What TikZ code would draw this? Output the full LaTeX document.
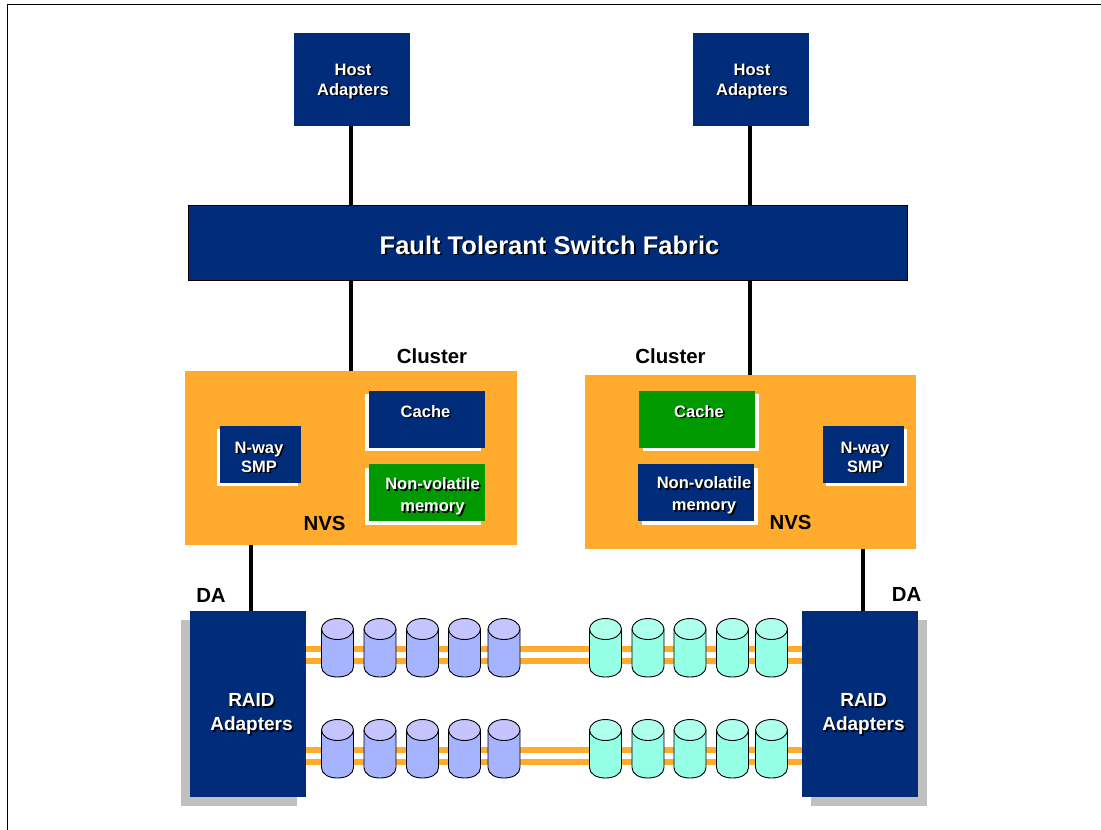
\documentclass[tikz,border=0pt]{standalone}
\usepackage{fontspec}
\setmainfont{Liberation Sans}
\definecolor{navy}{RGB}{0,44,122}
\definecolor{amber}{RGB}{255,171,46}
\definecolor{leaf}{RGB}{0,153,0}
\definecolor{shade}{RGB}{192,192,192}
\definecolor{bluebody}{RGB}{166,180,255}
\definecolor{bluetop}{RGB}{196,196,255}
\definecolor{aquabody}{RGB}{148,255,228}
\definecolor{aquatop}{RGB}{174,255,235}
\newcommand{\shtxt}[1]{\leavevmode\rlap{\raisebox{-1.7pt}{\hspace{1.7pt}\textcolor{black}{#1}}}#1}
\newcommand{\fs}[2]{\fontsize{#1}{#2}\selectfont\bfseries}
\newcommand{\cyl}[6]{%
  \pgfmathsetmacro{\xm}{(#1+#2)/2}%
  \pgfmathsetmacro{\yt}{#3+10.5}%
  \pgfmathsetmacro{\yb}{#4-10.5}%
  \pgfmathsetmacro{\ya}{#4-4}%
  \pgfmathsetmacro{\xa}{#1+7}%
  \pgfmathsetmacro{\xb}{#2-7}%
  \draw[cylline,fill=#5] (#1,\yt) -- (#1,\yb) .. controls (#1,\ya) and (\xa,#4) .. (\xm,#4) .. controls (\xb,#4) and (#2,\ya) .. (#2,\yb) -- (#2,\yt) -- cycle;
  \draw[cylline,fill=#6] (\xm,\yt) ellipse [x radius=16, y radius=10.5];}
\tikzset{
  box/.style={rectangle,inner sep=0pt,outer sep=0pt,draw=none,fill=navy},
  greenbox/.style={box,fill=leaf},
  white shadow/.style={rectangle,inner sep=0pt,outer sep=0pt,fill=white},
  gray shadow/.style={rectangle,inner sep=0pt,outer sep=0pt,fill=shade},
  cluster/.style={rectangle,inner sep=0pt,outer sep=0pt,fill=amber},
  link/.style={draw=black,line width=4pt},
  bus/.style={draw=amber,line width=5.4pt},
  cylline/.style={draw=black,line width=0.9pt},
  onbox/.style={text=white,align=center,inner sep=0pt},
  caption/.style={text=black,inner sep=0pt},
  frameline/.style={draw=black,line width=1.1pt}
}
\begin{document}
\begin{tikzpicture}[x=1pt,y=-1pt]
\useasboundingbox (0,0) rectangle (1101,830);
\fill[white] (0,0) rectangle (1101,830);
\draw[frameline] (7.5,830) -- (7.5,4.5) -- (1101,4.5);

% main blocks
\node[box,minimum width=116pt,minimum height=93pt] (host1) at (352,79.5) {};
\node[box,minimum width=116pt,minimum height=93pt] (host2) at (751,79.5) {};
\node[box,draw=black,line width=0.7pt,minimum width=719pt,minimum height=75pt] (fabric) at (547.5,243) {};
\node[cluster,minimum width=332pt,minimum height=174pt] (cl1) at (351,458) {};
\node[cluster,minimum width=331pt,minimum height=174pt] (cl2) at (750.5,462) {};

% RAID
\node[gray shadow,minimum width=116pt,minimum height=186pt] (rs1) at (239,713) {};
\node[gray shadow,minimum width=116pt,minimum height=186pt] (rs2) at (869,713) {};
\node[box,minimum width=116pt,minimum height=186pt] (raid1) at (248,704) {};
\node[box,minimum width=116pt,minimum height=186pt] (raid2) at (860,704) {};

% connectors
\draw[link] ([xshift=-1pt]host1.south) -- ([xshift=-1pt]host1.south |- fabric.north);
\draw[link] ([xshift=-1pt]host2.south) -- ([xshift=-1pt]host2.south |- fabric.north);
\draw[link] ([xshift=-1pt]host1.south |- fabric.south) -- ([xshift=-1pt]host1.south |- cl1.north);
\draw[link] ([xshift=-1pt]host2.south |- fabric.south) -- ([xshift=-1pt]host2.south |- cl2.north);
\draw[link] ([xshift=2.5pt]raid1.north |- cl1.south) -- ([xshift=2.5pt]raid1.north);
\draw[link] ([xshift=2.5pt]raid2.north |- cl2.south) -- ([xshift=2.5pt]raid2.north);

% buses between the RAID adapters
\foreach \off in {55,43,-46,-58}
  \draw[bus] ([yshift=\off pt]raid1.east) -- ([yshift=\off pt]raid2.west);

% disks
\foreach \ya/\yz in {618.5/677,719.5/778}{
  \foreach \xl/\xr in {321.5/353.5,364/396,406.5/438.5,448.5/480.5,488/520}
    {\cyl{\xl}{\xr}{\ya}{\yz}{bluebody}{bluetop}}
  \foreach \xl/\xr in {589.5/621.5,632/664,674/706,716.5/748.5,755.5/787.5}
    {\cyl{\xl}{\xr}{\ya}{\yz}{aquabody}{aquatop}}
}

% left cluster contents
\node[white shadow,minimum width=81pt,minimum height=57pt] (smp1s) at (257.5,457.5) {};
\node[box,minimum width=81pt,minimum height=57pt] (smp1) at (260.5,454.5) {};
\node[white shadow,minimum width=116pt,minimum height=57pt] (cache1s) at (423,422.5) {};
\node[box,minimum width=116pt,minimum height=57pt] (cache1) at (427,419.5) {};
\node[white shadow,minimum width=116pt,minimum height=57pt] (nvm1s) at (423,496.5) {};
\node[greenbox,minimum width=116pt,minimum height=57pt] (nvm1) at (427,492.5) {};

% right cluster contents
\node[white shadow,minimum width=81pt,minimum height=57pt] (smp2s) at (866.5,457.5) {};
\node[box,minimum width=81pt,minimum height=57pt] (smp2) at (863.5,454.5) {};
\node[white shadow,minimum width=116pt,minimum height=57pt] (cache2s) at (701,422.5) {};
\node[greenbox,minimum width=116pt,minimum height=57pt] (cache2) at (697,419.5) {};
\node[white shadow,minimum width=116pt,minimum height=57pt] (nvm2s) at (700,496.5) {};
\node[box,minimum width=116pt,minimum height=57pt] (nvm2) at (696,492.5) {};

% labels
\node[onbox,font=\fs{16.5}{20}] (t1) at (353,82) {\shtxt{Host}\\\shtxt{Adapters}};
\node[onbox,font=\fs{16.5}{20}] (t2) at (752,82) {\shtxt{Host}\\\shtxt{Adapters}};
\node[onbox,font=\fs{25.5}{30}] (t3) at (549.5,246) {\shtxt{Fault Tolerant Switch Fabric}};
\node[onbox,font=\fs{16.5}{19}] (t4) at (259,458) {\shtxt{N-way}\\\shtxt{SMP}};
\node[onbox,font=\fs{16.5}{19}] (t5) at (865,458) {\shtxt{N-way}\\\shtxt{SMP}};
\node[onbox,font=\fs{16.5}{20}] (t6) at (425.5,412) {\shtxt{Cache}};
\node[onbox,font=\fs{16.5}{20}] (t7) at (699,412) {\shtxt{Cache}};
\node[onbox,font=\fs{16.5}{22}] (t8) at (432.5,497) {\shtxt{Non-volatile}\\\shtxt{memory}};
\node[onbox,font=\fs{16.5}{22}] (t9) at (704,496) {\shtxt{Non-volatile}\\\shtxt{memory}};
\node[onbox,font=\fs{19}{24}] (t10) at (251.5,715) {\shtxt{RAID}\\\shtxt{Adapters}};
\node[onbox,font=\fs{19}{24}] (t11) at (863.5,715) {\shtxt{RAID}\\\shtxt{Adapters}};
\node[caption,font=\fs{20.4}{24}] (t12) at (432,356) {Cluster};
\node[caption,font=\fs{20.4}{24}] (t13) at (670.5,356) {Cluster};
\node[caption,font=\fs{20.4}{24}] (t14) at (324.5,523) {NVS};
\node[caption,font=\fs{20.4}{24}] (t15) at (790.5,522) {NVS};
\node[caption,font=\fs{20.4}{24}] (t16) at (211,595.5) {DA};
\node[caption,font=\fs{20.4}{24}] (t17) at (906.5,594) {DA};
\end{tikzpicture}
\end{document}
